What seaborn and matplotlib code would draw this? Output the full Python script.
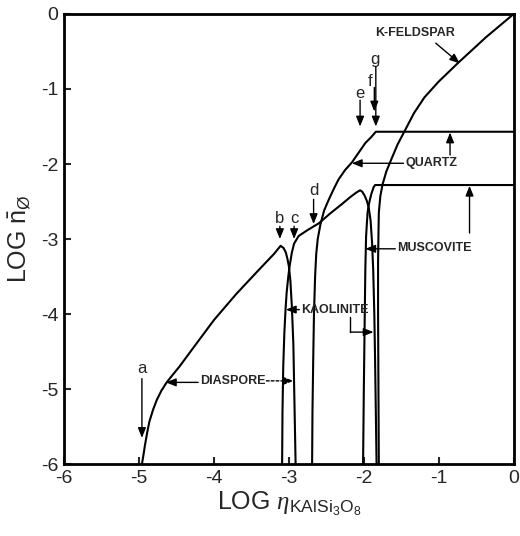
import matplotlib
matplotlib.use("Agg")
import matplotlib.pyplot as plt
import seaborn as sns

# ---- data ----
diaspore_x = [-4.96, -4.94, -4.92, -4.89, -4.86, -4.81, -4.76, -4.70, -4.63, -4.55, -4.46, -4.29,
              -4.00, -3.70, -3.40, -3.20, -3.11, -3.07, -3.04, -3.02, -3.00, -2.98, -2.96, -2.94,
              -2.925, -2.91]
diaspore_y = [-6.0, -5.88, -5.75, -5.58, -5.43, -5.27, -5.14, -5.02, -4.91, -4.81, -4.70, -4.47,
              -4.08, -3.73, -3.41, -3.20, -3.09, -3.12, -3.18, -3.26, -3.36, -3.55, -3.90, -4.40,
              -5.20, -6.0]

kaolinite_x = [-3.09, -3.085, -3.075, -3.06, -3.045, -3.03, -3.01, -2.99, -2.96, -2.93, -2.87,
               -2.75, -2.60, -2.45, -2.30, -2.18, -2.10, -2.05, -2.02, -1.99, -1.96, -1.935,
               -1.91, -1.89, -1.875, -1.86, -1.85, -1.84, -1.83]
kaolinite_y = [-6.0, -5.3, -4.7, -4.25, -3.95, -3.72, -3.52, -3.36, -3.18, -3.06, -2.96,
               -2.88, -2.79, -2.66, -2.54, -2.44, -2.38, -2.35, -2.37, -2.42, -2.49, -2.58,
               -2.75, -3.05, -3.41, -4.0, -4.6, -5.3, -6.0]

muscovite_x = [-2.01, -2.00, -1.99, -1.98, -1.97, -1.96, -1.95, -1.935, -1.92, -1.90, -1.87,
               -1.85, 0.0]
muscovite_y = [-6.0, -5.0, -4.2, -3.41, -2.97, -2.80, -2.65, -2.55, -2.48, -2.40, -2.31,
               -2.28, -2.28]

quartz_x = [-2.69, -2.685, -2.675, -2.665, -2.65, -2.635, -2.615, -2.58, -2.53, -2.47, -2.40,
            -2.34, -2.25, -2.16, -2.07, -1.98, -1.90, -1.84, 0.0]
quartz_y = [-6.0, -5.3, -4.6, -4.0, -3.5, -3.2, -3.0, -2.81, -2.62, -2.48, -2.33,
            -2.21, -2.08, -1.98, -1.85, -1.72, -1.64, -1.57, -1.57]

kfeldspar_x = [-1.80, -1.805, -1.81, -1.81, -1.805, -1.80, -1.78, -1.75, -1.70, -1.63, -1.55,
               -1.45, -1.33, -1.19, -1.00, -0.74, -0.37, 0.0]
kfeldspar_y = [-6.0, -5.0, -4.0, -3.30, -2.95, -2.65, -2.43, -2.27, -2.10, -1.93, -1.74,
               -1.55, -1.32, -1.11, -0.90, -0.65, -0.31, 0.0]

tick_values = [-6, -5, -4, -3, -2, -1, 0]
tick_labels = ["-6", "-5", "-4", "-3", "-2", "-1", "0"]

point_labels = ["a", "b", "c", "d", "e", "f", "g"]
point_x = [-4.96, -3.12, -2.93, -2.67, -2.05, -1.92, -1.85]
point_y = [-4.73, -2.72, -2.72, -2.35, -1.06, -0.90, -0.61]

# ---- style ----
sns.set_style("ticks", {"xtick.direction": "in", "ytick.direction": "in"})
plt.rcParams["font.family"] = ["Liberation Sans", "DejaVu Sans"]
plt.rcParams["axes.unicode_minus"] = False
plt.rcParams["mathtext.fontset"] = "custom"
plt.rcParams["mathtext.rm"] = "Liberation Sans"
plt.rcParams["mathtext.it"] = "Liberation Serif:italic"

fig = plt.figure(figsize=(5.2, 5.36), dpi=100)
ax = fig.add_axes([0.123, 0.134, 0.865, 0.840])

curves = [(diaspore_x, diaspore_y), (kaolinite_x, kaolinite_y), (muscovite_x, muscovite_y),
          (quartz_x, quartz_y), (kfeldspar_x, kfeldspar_y)]
for xs, ys in curves:
    sns.lineplot(x=xs, y=ys, sort=False, estimator=None, color="black", lw=1.5, ax=ax)

ax.set_xlim(-6, 0)
ax.set_ylim(-6, 0)
ax.set_xticks(tick_values)
ax.set_xticklabels(tick_labels)
ax.set_yticks(tick_values)
ax.set_yticklabels(tick_labels)
ax.tick_params(direction="in", length=5, width=1.5, labelsize=14, pad=4)
for s in ax.spines.values():
    s.set_linewidth(2)
    s.set_color("black")

ax.set_xlabel(r"LOG $\eta_{\mathrm{KAlSi_3O_8}}$", fontsize=18, labelpad=2)
ax.set_ylabel(r"LOG $\bar{\mathrm{n}}_{\mathrm{Ø}}$", fontsize=18, labelpad=6)

arrow = dict(arrowstyle="-|>,head_length=0.5,head_width=0.2", color="black", lw=1.0,
             mutation_scale=12, shrinkA=0, shrinkB=0)

# point labels and their down arrows
for lab, x, y in zip(point_labels, point_x, point_y):
    ax.text(x, y, lab, ha="center", va="center", fontsize=12)
arrow_specs = [(-4.96, -4.86, -5.65), (-3.12, -2.83, -3.00), (-2.93, -2.83, -3.00),
               (-2.67, -2.47, -2.80), (-2.05, -1.15, -1.50), (-1.86, -0.98, -1.30),
               (-1.84, -0.70, -1.50)]
for x, y0, y1 in arrow_specs:
    ax.annotate("", xy=(x, y1), xytext=(x, y0), arrowprops=arrow)

tkw = dict(fontsize=9, fontweight="bold", va="center")
# K-FELDSPAR
ax.text(-1.32, -0.26, "K-FELDSPAR", ha="center", **tkw)
ax.annotate("", xy=(-0.72, -0.66), xytext=(-1.04, -0.39), arrowprops=arrow)
# QUARTZ
ax.text(-1.45, -1.99, "QUARTZ", ha="left", **tkw)
ax.annotate("", xy=(-2.16, -1.99), xytext=(-1.47, -1.99), arrowprops=arrow)
ax.annotate("", xy=(-0.85, -1.58), xytext=(-0.85, -1.88), arrowprops=arrow)
# MUSCOVITE
ax.text(-1.56, -3.12, "MUSCOVITE", ha="left", **tkw)
ax.annotate("", xy=(-1.98, -3.13), xytext=(-1.58, -3.13), arrowprops=arrow)
ax.annotate("", xy=(-0.59, -2.29), xytext=(-0.59, -2.92), arrowprops=arrow)
# KAOLINITE
ax.text(-2.84, -3.94, "KAOLINITE", ha="left", **tkw)
ax.annotate("", xy=(-3.04, -3.94), xytext=(-2.86, -3.94), arrowprops=arrow)
ax.plot([-2.18, -2.18], [-4.04, -4.24], color="black", lw=1.0)
ax.annotate("", xy=(-1.87, -4.24), xytext=(-2.18, -4.24), arrowprops=arrow)
# DIASPORE
ax.text(-4.19, -4.89, "DIASPORE", ha="left", **tkw)
ax.annotate("", xy=(-4.64, -4.91), xytext=(-4.21, -4.91), arrowprops=arrow)
ax.annotate("", xy=(-2.94, -4.89), xytext=(-3.30, -4.89),
            arrowprops=dict(arrow, linestyle=(0, (2, 1.5))))

fig.savefig("out.png", dpi=100)
